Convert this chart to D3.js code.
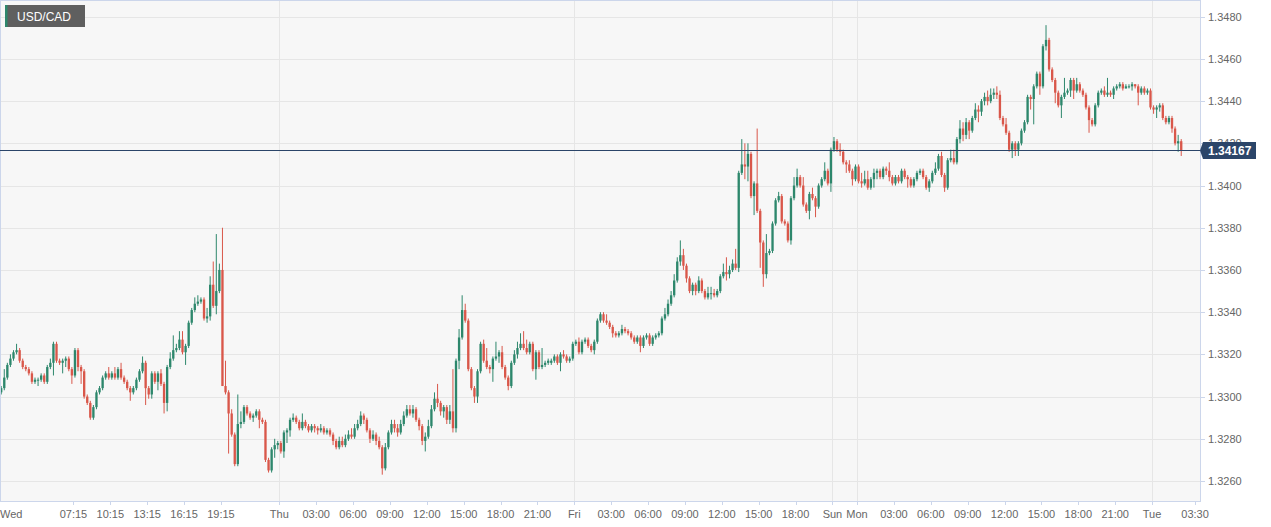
<!DOCTYPE html>
<html><head><meta charset="utf-8">
<script src="https://cdn.jsdelivr.net/npm/d3@7"></script>
<style>
html,body{margin:0;padding:0;background:#ffffff;}
svg{display:block;font-family:Arial,"Liberation Sans",Helvetica,sans-serif;}
</style></head><body>
<svg id="chart" width="1271" height="527"></svg>
<script>
// ---------------- DATA ----------------
const symbol = "USD/CAD";
const lastPrice = 1.34167;
// 15-minute candles; time in "trading hours" from Wed 00:00 (weekend removed)
const firstCandleHour = 1.25;   // Wed 01:15
const candleHours = 0.25;

const opens = [
1.3302,1.3304,1.3309,1.3315,1.3318,1.3321,1.3322,1.3317,1.3314,1.3313,
1.3311,1.3307,1.3308,1.3308,1.3310,1.3307,1.3314,1.3316,1.3325,1.3317,
1.3316,1.3317,1.3318,1.3313,1.3310,1.3322,1.3314,1.3312,1.3300,1.3297,
1.3290,1.3295,1.3302,1.3304,1.3309,1.3311,1.3309,1.3311,1.3309,1.3313,
1.3309,1.3307,1.3304,1.3302,1.3304,1.3308,1.3312,1.3316,1.3304,1.3301,
1.3311,1.3307,1.3311,1.3306,1.3297,1.3314,1.3318,1.3322,1.3323,1.3327,
1.3321,1.3324,1.3335,1.3341,1.3344,1.3345,1.3346,1.3337,1.3338,1.3353,
1.3343,1.3350,1.3360,1.3305,1.3302,1.3292,1.3282,1.3268,1.3287,1.3288,
1.3295,1.3292,1.3290,1.3291,1.3293,1.3289,1.3288,1.3270,1.3265,1.3275,
1.3277,1.3278,1.3274,1.3283,1.3284,1.3289,1.3290,1.3288,1.3285,1.3288,
1.3286,1.3284,1.3286,1.3285,1.3284,1.3285,1.3283,1.3284,1.3282,1.3279,
1.3276,1.3279,1.3277,1.3280,1.3282,1.3281,1.3285,1.3287,1.3291,1.3289,
1.3284,1.3280,1.3282,1.3279,1.3276,1.3266,1.3276,1.3283,1.3287,1.3285,
1.3283,1.3287,1.3291,1.3294,1.3292,1.3294,1.3289,1.3286,1.3279,1.3281,
1.3286,1.3294,1.3299,1.3297,1.3293,1.3295,1.3289,1.3293,1.3285,1.3317,
1.3328,1.3341,1.3336,1.3313,1.3304,1.3300,1.3312,1.3325,1.3317,1.3314,
1.3313,1.3318,1.3319,1.3321,1.3314,1.3309,1.3305,1.3316,1.3320,1.3323,
1.3325,1.3323,1.3321,1.3325,1.3313,1.3321,1.3314,1.3315,1.3316,1.3316,
1.3317,1.3319,1.3316,1.3320,1.3319,1.3317,1.3318,1.3325,1.3326,1.3321,
1.3326,1.3327,1.3324,1.3322,1.3326,1.3336,1.3339,1.3336,1.3335,1.3333,
1.3330,1.3329,1.3330,1.3332,1.3331,1.3330,1.3328,1.3326,1.3328,1.3324,
1.3328,1.3329,1.3325,1.3328,1.3329,1.3330,1.3337,1.3339,1.3344,1.3348,
1.3355,1.3364,1.3367,1.3362,1.3356,1.3350,1.3353,1.3350,1.3355,1.3350,
1.3347,1.3349,1.3349,1.3348,1.3350,1.3357,1.3359,1.3358,1.3360,1.3363,
1.3361,1.3406,1.3410,1.3409,1.3415,1.3395,1.3401,1.3388,1.3373,1.3358,
1.3368,1.3369,1.3382,1.3393,1.3395,1.3383,1.3382,1.3374,1.3394,1.3400,
1.3404,1.3400,1.3391,1.3388,1.3396,1.3394,1.3390,1.3400,1.3403,1.3407,
1.3401,1.3417,1.3421,1.3417,1.3416,1.3411,1.3410,1.3407,1.3403,1.3409,
1.3402,1.3401,1.3403,1.3399,1.3403,1.3406,1.3407,1.3404,1.3408,1.3407,
1.3404,1.3401,1.3404,1.3402,1.3407,1.3404,1.3403,1.3400,1.3403,1.3406,
1.3407,1.3404,1.3399,1.3402,1.3406,1.3408,1.3414,1.3405,1.3399,1.3412,
1.3413,1.3411,1.3422,1.3427,1.3424,1.3430,1.3426,1.3432,1.3436,1.3435,
1.3440,1.3442,1.3440,1.3443,1.3444,1.3443,1.3432,1.3429,1.3425,1.3417,
1.3420,1.3417,1.3420,1.3426,1.3430,1.3442,1.3441,1.3447,1.3453,1.3447,
1.3466,1.3469,1.3455,1.3450,1.3444,1.3438,1.3442,1.3444,1.3445,1.3450,
1.3445,1.3448,1.3445,1.3443,1.3437,1.3431,1.3429,1.3438,1.3444,1.3445,
1.3443,1.3444,1.3443,1.3446,1.3447,1.3448,1.3446,1.3447,1.3447,1.3448,
1.3447,1.3444,1.3446,1.3444,1.3445,1.3437,1.3436,1.3437,1.3438,1.3432,
1.3430,1.3432,1.3427,1.3420,1.3421];

const highs = [
1.3305,1.3313,1.3316,1.3320,1.3322,1.3325,1.3323,1.3318,1.3315,1.3314,
1.3312,1.3309,1.3309,1.3311,1.3311,1.3315,1.3318,1.3326,1.3326,1.3318,
1.3318,1.3319,1.3319,1.3314,1.3323,1.3323,1.3315,1.3313,1.3301,1.3298,
1.3296,1.3303,1.3305,1.3310,1.3312,1.3314,1.3312,1.3314,1.3314,1.3316,
1.3310,1.3308,1.3305,1.3305,1.3309,1.3313,1.3319,1.3317,1.3305,1.3312,
1.3312,1.3312,1.3313,1.3307,1.3315,1.3321,1.3329,1.3325,1.3331,1.3331,
1.3325,1.3336,1.3342,1.3347,1.3348,1.3347,1.3347,1.3342,1.3357,1.3364,
1.3377,1.3363,1.3380,1.3317,1.3303,1.3294,1.3283,1.3301,1.3293,1.3296,
1.3296,1.3293,1.3292,1.3294,1.3294,1.3290,1.3289,1.3271,1.3276,1.3280,
1.3279,1.3279,1.3284,1.3285,1.3290,1.3292,1.3291,1.3289,1.3292,1.3289,
1.3287,1.3287,1.3287,1.3286,1.3287,1.3286,1.3285,1.3285,1.3283,1.3280,
1.3281,1.3281,1.3282,1.3284,1.3285,1.3287,1.3289,1.3293,1.3292,1.3290,
1.3285,1.3284,1.3283,1.3281,1.3277,1.3278,1.3284,1.3289,1.3289,1.3287,
1.3289,1.3293,1.3296,1.3296,1.3296,1.3295,1.3290,1.3287,1.3283,1.3289,
1.3296,1.3302,1.3306,1.3298,1.3296,1.3296,1.3296,1.3313,1.3318,1.3332,
1.3348,1.3344,1.3337,1.3314,1.3305,1.3313,1.3326,1.3327,1.3323,1.3315,
1.3319,1.3326,1.3322,1.3324,1.3315,1.3310,1.3317,1.3322,1.3326,1.3330,
1.3331,1.3327,1.3326,1.3326,1.3322,1.3322,1.3323,1.3317,1.3318,1.3318,
1.3320,1.3320,1.3321,1.3322,1.3320,1.3319,1.3326,1.3327,1.3328,1.3327,
1.3328,1.3328,1.3325,1.3327,1.3337,1.3340,1.3340,1.3339,1.3336,1.3334,
1.3331,1.3331,1.3334,1.3333,1.3332,1.3331,1.3329,1.3329,1.3329,1.3329,
1.3330,1.3330,1.3329,1.3330,1.3331,1.3338,1.3342,1.3346,1.3350,1.3358,
1.3366,1.3374,1.3370,1.3363,1.3357,1.3354,1.3354,1.3357,1.3356,1.3351,
1.3352,1.3352,1.3351,1.3351,1.3358,1.3363,1.3366,1.3362,1.3365,1.3370,
1.3407,1.3422,1.3420,1.3420,1.3416,1.3402,1.3427,1.3389,1.3374,1.3377,
1.3370,1.3383,1.3394,1.3397,1.3396,1.3384,1.3383,1.3395,1.3404,1.3408,
1.3405,1.3404,1.3392,1.3397,1.3399,1.3395,1.3401,1.3404,1.3411,1.3408,
1.3418,1.3423,1.3422,1.3420,1.3417,1.3412,1.3412,1.3408,1.3410,1.3410,
1.3406,1.3407,1.3407,1.3404,1.3408,1.3408,1.3408,1.3409,1.3409,1.3411,
1.3405,1.3405,1.3405,1.3408,1.3408,1.3405,1.3404,1.3404,1.3407,1.3408,
1.3408,1.3405,1.3403,1.3407,1.3411,1.3415,1.3416,1.3406,1.3413,1.3417,
1.3417,1.3423,1.3431,1.3430,1.3432,1.3431,1.3433,1.3439,1.3438,1.3441,
1.3444,1.3445,1.3446,1.3446,1.3447,1.3445,1.3433,1.3432,1.3426,1.3421,
1.3421,1.3421,1.3427,1.3431,1.3443,1.3443,1.3448,1.3454,1.3454,1.3467,
1.3476,1.3470,1.3456,1.3451,1.3445,1.3443,1.3451,1.3446,1.3451,1.3451,
1.3451,1.3449,1.3446,1.3444,1.3438,1.3432,1.3439,1.3445,1.3446,1.3447,
1.3451,1.3445,1.3447,1.3448,1.3449,1.3449,1.3448,1.3448,1.3449,1.3448,
1.3448,1.3447,1.3447,1.3446,1.3446,1.3438,1.3438,1.3439,1.3439,1.3433,
1.3433,1.3433,1.3428,1.3424,1.3422];

const lows = [
1.3301,1.3303,1.3308,1.3314,1.3317,1.3320,1.3316,1.3313,1.3312,1.3310,
1.3306,1.3306,1.3305,1.3307,1.3306,1.3306,1.3313,1.3310,1.3316,1.3315,
1.3311,1.3314,1.3312,1.3306,1.3309,1.3312,1.3306,1.3299,1.3296,1.3289,
1.3289,1.3294,1.3301,1.3303,1.3308,1.3308,1.3308,1.3308,1.3308,1.3308,
1.3306,1.3303,1.3298,1.3301,1.3303,1.3307,1.3311,1.3296,1.3299,1.3299,
1.3306,1.3303,1.3305,1.3292,1.3293,1.3313,1.3317,1.3321,1.3322,1.3320,
1.3315,1.3323,1.3334,1.3340,1.3343,1.3344,1.3336,1.3335,1.3336,1.3342,
1.3339,1.3349,1.3305,1.3301,1.3273,1.3281,1.3267,1.3267,1.3285,1.3287,
1.3291,1.3289,1.3288,1.3290,1.3285,1.3287,1.3269,1.3264,1.3264,1.3271,
1.3275,1.3273,1.3271,1.3278,1.3281,1.3288,1.3287,1.3284,1.3284,1.3285,
1.3283,1.3283,1.3283,1.3282,1.3283,1.3282,1.3282,1.3281,1.3277,1.3275,
1.3275,1.3276,1.3276,1.3279,1.3280,1.3280,1.3284,1.3286,1.3287,1.3283,
1.3278,1.3279,1.3277,1.3275,1.3263,1.3265,1.3275,1.3282,1.3283,1.3281,
1.3282,1.3286,1.3290,1.3291,1.3290,1.3288,1.3284,1.3277,1.3274,1.3280,
1.3285,1.3293,1.3295,1.3291,1.3290,1.3287,1.3287,1.3283,1.3283,1.3313,
1.3327,1.3335,1.3312,1.3303,1.3297,1.3297,1.3311,1.3316,1.3313,1.3311,
1.3307,1.3317,1.3316,1.3313,1.3308,1.3303,1.3304,1.3315,1.3318,1.3322,
1.3322,1.3320,1.3320,1.3312,1.3308,1.3313,1.3313,1.3314,1.3315,1.3315,
1.3316,1.3315,1.3312,1.3318,1.3316,1.3316,1.3317,1.3324,1.3320,1.3320,
1.3325,1.3323,1.3321,1.3320,1.3325,1.3335,1.3335,1.3334,1.3332,1.3328,
1.3328,1.3328,1.3329,1.3330,1.3329,1.3327,1.3325,1.3325,1.3321,1.3323,
1.3327,1.3324,1.3324,1.3327,1.3328,1.3329,1.3336,1.3338,1.3343,1.3347,
1.3354,1.3362,1.3360,1.3354,1.3349,1.3348,1.3348,1.3349,1.3349,1.3346,
1.3346,1.3346,1.3347,1.3347,1.3349,1.3356,1.3355,1.3356,1.3359,1.3360,
1.3359,1.3405,1.3403,1.3402,1.3394,1.3386,1.3387,1.3361,1.3352,1.3356,
1.3367,1.3368,1.3381,1.3392,1.3382,1.3381,1.3373,1.3372,1.3393,1.3399,
1.3399,1.3390,1.3387,1.3384,1.3393,1.3385,1.3389,1.3399,1.3402,1.3400,
1.3397,1.3416,1.3416,1.3414,1.3410,1.3406,1.3406,1.3400,1.3402,1.3401,
1.3399,1.3400,1.3398,1.3398,1.3399,1.3403,1.3403,1.3403,1.3405,1.3402,
1.3400,1.3400,1.3401,1.3401,1.3403,1.3399,1.3399,1.3399,1.3402,1.3405,
1.3403,1.3398,1.3397,1.3401,1.3405,1.3407,1.3404,1.3397,1.3398,1.3411,
1.3410,1.3410,1.3420,1.3421,1.3422,1.3422,1.3425,1.3431,1.3430,1.3433,
1.3438,1.3438,1.3439,1.3441,1.3441,1.3431,1.3428,1.3424,1.3416,1.3413,
1.3414,1.3414,1.3419,1.3425,1.3429,1.3436,1.3429,1.3446,1.3443,1.3446,
1.3464,1.3454,1.3449,1.3439,1.3437,1.3432,1.3441,1.3443,1.3442,1.3441,
1.3444,1.3444,1.3442,1.3436,1.3425,1.3428,1.3428,1.3437,1.3443,1.3442,
1.3442,1.3442,1.3441,1.3445,1.3446,1.3445,1.3446,1.3446,1.3445,1.3446,
1.3438,1.3443,1.3443,1.3443,1.3436,1.3434,1.3432,1.3435,1.3431,1.3429,
1.3429,1.3425,1.3419,1.3416,1.3414];

const closes = [
1.3304,1.3309,1.3315,1.3318,1.3321,1.3322,1.3317,1.3314,1.3313,1.3311,
1.3307,1.3308,1.3308,1.3310,1.3307,1.3314,1.3316,1.3325,1.3317,1.3316,
1.3317,1.3318,1.3313,1.3310,1.3322,1.3314,1.3312,1.3300,1.3297,1.3290,
1.3295,1.3302,1.3304,1.3309,1.3311,1.3309,1.3311,1.3309,1.3313,1.3309,
1.3307,1.3304,1.3302,1.3304,1.3308,1.3312,1.3316,1.3304,1.3301,1.3311,
1.3307,1.3311,1.3306,1.3297,1.3314,1.3318,1.3322,1.3323,1.3327,1.3321,
1.3324,1.3335,1.3341,1.3344,1.3345,1.3346,1.3337,1.3338,1.3353,1.3343,
1.3350,1.3360,1.3305,1.3302,1.3292,1.3282,1.3268,1.3287,1.3288,1.3295,
1.3292,1.3290,1.3291,1.3293,1.3289,1.3288,1.3270,1.3265,1.3275,1.3277,
1.3278,1.3274,1.3283,1.3284,1.3289,1.3290,1.3288,1.3285,1.3288,1.3286,
1.3284,1.3286,1.3285,1.3284,1.3285,1.3283,1.3284,1.3282,1.3279,1.3276,
1.3279,1.3277,1.3280,1.3282,1.3281,1.3285,1.3287,1.3291,1.3289,1.3284,
1.3280,1.3282,1.3279,1.3276,1.3266,1.3276,1.3283,1.3287,1.3285,1.3283,
1.3287,1.3291,1.3294,1.3292,1.3294,1.3289,1.3286,1.3279,1.3281,1.3286,
1.3294,1.3299,1.3297,1.3293,1.3295,1.3289,1.3293,1.3285,1.3317,1.3328,
1.3341,1.3336,1.3313,1.3304,1.3300,1.3312,1.3325,1.3317,1.3314,1.3313,
1.3318,1.3319,1.3321,1.3314,1.3309,1.3305,1.3316,1.3320,1.3323,1.3325,
1.3323,1.3321,1.3325,1.3313,1.3321,1.3314,1.3315,1.3316,1.3317,1.3317,
1.3319,1.3316,1.3320,1.3319,1.3317,1.3318,1.3325,1.3326,1.3321,1.3326,
1.3327,1.3324,1.3322,1.3326,1.3336,1.3339,1.3336,1.3335,1.3333,1.3330,
1.3329,1.3330,1.3332,1.3331,1.3330,1.3328,1.3326,1.3328,1.3324,1.3328,
1.3329,1.3325,1.3328,1.3329,1.3330,1.3337,1.3339,1.3344,1.3348,1.3355,
1.3364,1.3367,1.3362,1.3356,1.3350,1.3353,1.3350,1.3355,1.3350,1.3347,
1.3349,1.3349,1.3348,1.3350,1.3357,1.3359,1.3358,1.3360,1.3363,1.3361,
1.3406,1.3410,1.3409,1.3415,1.3395,1.3401,1.3388,1.3373,1.3358,1.3368,
1.3369,1.3382,1.3393,1.3395,1.3383,1.3382,1.3374,1.3394,1.3400,1.3404,
1.3400,1.3391,1.3388,1.3396,1.3394,1.3390,1.3400,1.3403,1.3407,1.3401,
1.3417,1.3421,1.3417,1.3416,1.3411,1.3410,1.3407,1.3403,1.3409,1.3402,
1.3401,1.3403,1.3399,1.3403,1.3406,1.3407,1.3404,1.3408,1.3407,1.3404,
1.3401,1.3404,1.3402,1.3407,1.3404,1.3403,1.3400,1.3403,1.3406,1.3407,
1.3404,1.3399,1.3402,1.3406,1.3408,1.3414,1.3405,1.3399,1.3412,1.3413,
1.3411,1.3422,1.3427,1.3424,1.3430,1.3426,1.3432,1.3436,1.3435,1.3440,
1.3442,1.3440,1.3443,1.3444,1.3443,1.3432,1.3429,1.3425,1.3417,1.3420,
1.3417,1.3420,1.3426,1.3430,1.3442,1.3441,1.3447,1.3453,1.3447,1.3466,
1.3469,1.3455,1.3450,1.3444,1.3438,1.3442,1.3444,1.3445,1.3450,1.3445,
1.3448,1.3445,1.3443,1.3437,1.3431,1.3429,1.3438,1.3444,1.3445,1.3443,
1.3444,1.3443,1.3446,1.3447,1.3448,1.3446,1.3447,1.3447,1.3448,1.3447,
1.3444,1.3446,1.3444,1.3445,1.3437,1.3436,1.3437,1.3438,1.3432,1.3430,
1.3432,1.3427,1.3420,1.3421,1.34167];

const xTickLabels = ["Wed","07:15","10:15","13:15","16:15","19:15","Thu","03:00","06:00","09:00","12:00","15:00","18:00","21:00",
  "Fri","03:00","06:00","09:00","12:00","15:00","18:00","Sun","Mon","03:00","06:00","09:00","12:00","15:00","18:00","21:00","Tue","03:30"];
const xTickHours = [0,7.25,10.25,13.25,16.25,19.25,24,27,30,33,36,39,42,45,
  48,51,54,57,60,63,66,69,71,74,77,80,83,86,89,92,95,98.5];
const dayLabels = ["Thu","Fri","Sun","Mon","Tue"];
const yTicks = [1.3260,1.3280,1.3300,1.3320,1.3340,1.3360,1.3380,1.3400,1.3420,1.3440,1.3460,1.3480];

// ---------------- CHART ----------------
const W = 1271, H = 527;
const plot = {left: 0, right: 1200, top: 0, bottom: 501};
const upColor = "#2d876c", downColor = "#d9574a";
const gridColor = "#e6e6e6", axisColor = "#ccd6eb", labelColor = "#666666";
const navy = "#2b4569";

const svg = d3.select("#chart");

const x = d3.scaleLinear().domain([1.2773, 98.902]).range([plot.left, plot.right]);
const y = d3.scaleLinear().domain([1.3260, 1.3480]).range([481.0, 16.7]);

const candles = closes.map((c, i) => ({
  t: firstCandleHour + i * candleHours,
  o: opens[i], h: highs[i], l: lows[i], c: c
}));

// plot background
svg.append("rect").attr("x", plot.left).attr("y", plot.top)
  .attr("width", plot.right - plot.left).attr("height", plot.bottom - plot.top)
  .attr("fill", "#f7f7f7");

svg.append("defs").append("clipPath").attr("id", "clip")
  .append("rect").attr("x", plot.left).attr("y", plot.top)
  .attr("width", plot.right - plot.left).attr("height", plot.bottom - plot.top);

// horizontal grid
svg.append("g").selectAll("line").data(yTicks).join("line")
  .attr("x1", plot.left).attr("x2", plot.right)
  .attr("y1", d => Math.round(y(d)) + 0.5).attr("y2", d => Math.round(y(d)) + 0.5)
  .attr("stroke", gridColor).attr("stroke-width", 1);

// vertical day grid
const dayTicks = xTickHours.filter((h, i) => dayLabels.includes(xTickLabels[i]));
svg.append("g").selectAll("line").data(dayTicks).join("line")
  .attr("x1", d => Math.round(x(d)) + 0.5).attr("x2", d => Math.round(x(d)) + 0.5)
  .attr("y1", plot.top).attr("y2", plot.bottom)
  .attr("stroke", gridColor).attr("stroke-width", 1);

// candles
const step = x(candleHours) - x(0);
const bw = step * 0.76;
const cg = svg.append("g").attr("clip-path", "url(#clip)");
const cs = cg.selectAll("g").data(candles).join("g");
cs.append("line")
  .attr("x1", d => x(d.t + candleHours / 2)).attr("x2", d => x(d.t + candleHours / 2))
  .attr("y1", d => y(Math.max(d.h, d.o, d.c))).attr("y2", d => y(Math.min(d.l, d.o, d.c)))
  .attr("stroke", d => d.c >= d.o ? upColor : downColor).attr("stroke-width", 1);
cs.append("rect")
  .attr("x", d => x(d.t + candleHours / 2) - bw / 2)
  .attr("width", bw)
  .attr("y", d => y(Math.max(d.o, d.c)))
  .attr("height", d => Math.max(1, Math.abs(y(d.o) - y(d.c))))
  .attr("fill", d => d.c >= d.o ? upColor : downColor);

// plot border
svg.append("rect").attr("x", plot.left + 0.5).attr("y", plot.top + 0.5)
  .attr("width", plot.right - plot.left).attr("height", plot.bottom - plot.top)
  .attr("fill", "none").attr("stroke", axisColor).attr("stroke-width", 1);

// y axis ticks + labels
const yAxis = svg.append("g");
yAxis.selectAll("line").data(yTicks).join("line")
  .attr("x1", plot.right + 1).attr("x2", plot.right + 5)
  .attr("y1", d => Math.round(y(d)) + 0.5).attr("y2", d => Math.round(y(d)) + 0.5)
  .attr("stroke", axisColor);
yAxis.selectAll("text").data(yTicks).join("text")
  .attr("x", plot.right + 8).attr("y", d => y(d))
  .attr("dominant-baseline", "central")
  .attr("font-size", 11).attr("fill", labelColor)
  .text(d => d3.format(".4f")(d));

// x axis ticks + labels
const xt = xTickHours.map((h, i) => ({h, label: xTickLabels[i]}));
const xAxis = svg.append("g");
xAxis.selectAll("line").data(xt.filter(d => x(d.h) >= plot.left)).join("line")
  .attr("x1", d => Math.round(x(d.h)) + 0.5).attr("x2", d => Math.round(x(d.h)) + 0.5)
  .attr("y1", plot.bottom + 1).attr("y2", plot.bottom + 4)
  .attr("stroke", axisColor);
xAxis.selectAll("text").data(xt).join("text")
  .attr("x", d => x(d.h) < plot.left ? plot.left : x(d.h))
  .attr("text-anchor", d => x(d.h) < plot.left ? "start" : "middle")
  .attr("y", 518)
  .attr("font-size", 11).attr("fill", labelColor)
  .text(d => d.label);

// current price line and label
const py = Math.round(y(lastPrice)) + 0.5;
svg.append("line").attr("x1", plot.left).attr("x2", plot.right)
  .attr("y1", py).attr("y2", py).attr("stroke", navy).attr("stroke-width", 1);
const bx = plot.right + 3, bh = 17;
svg.append("path")
  .attr("d", `M${plot.right},${py} L${bx},${py - bh / 2} L${bx + 53},${py - bh / 2} L${bx + 53},${py + bh / 2} L${bx},${py + bh / 2} Z`)
  .attr("fill", navy);
svg.append("text").attr("x", plot.right + 8).attr("y", py)
  .attr("dominant-baseline", "central")
  .attr("font-size", 12).attr("font-weight", "bold").attr("fill", "#ffffff")
  .text(d3.format(".5f")(lastPrice));

// symbol badge
svg.append("rect").attr("x", 5).attr("y", 5).attr("width", 80).attr("height", 22).attr("fill", "#5f5f5f");
svg.append("rect").attr("x", 5).attr("y", 5).attr("width", 2.5).attr("height", 22).attr("fill", upColor);
svg.append("text").attr("x", 17).attr("y", 16.5).attr("dominant-baseline", "central")
  .attr("font-size", 12).attr("fill", "#ffffff").text(symbol);
</script>
</body></html>
